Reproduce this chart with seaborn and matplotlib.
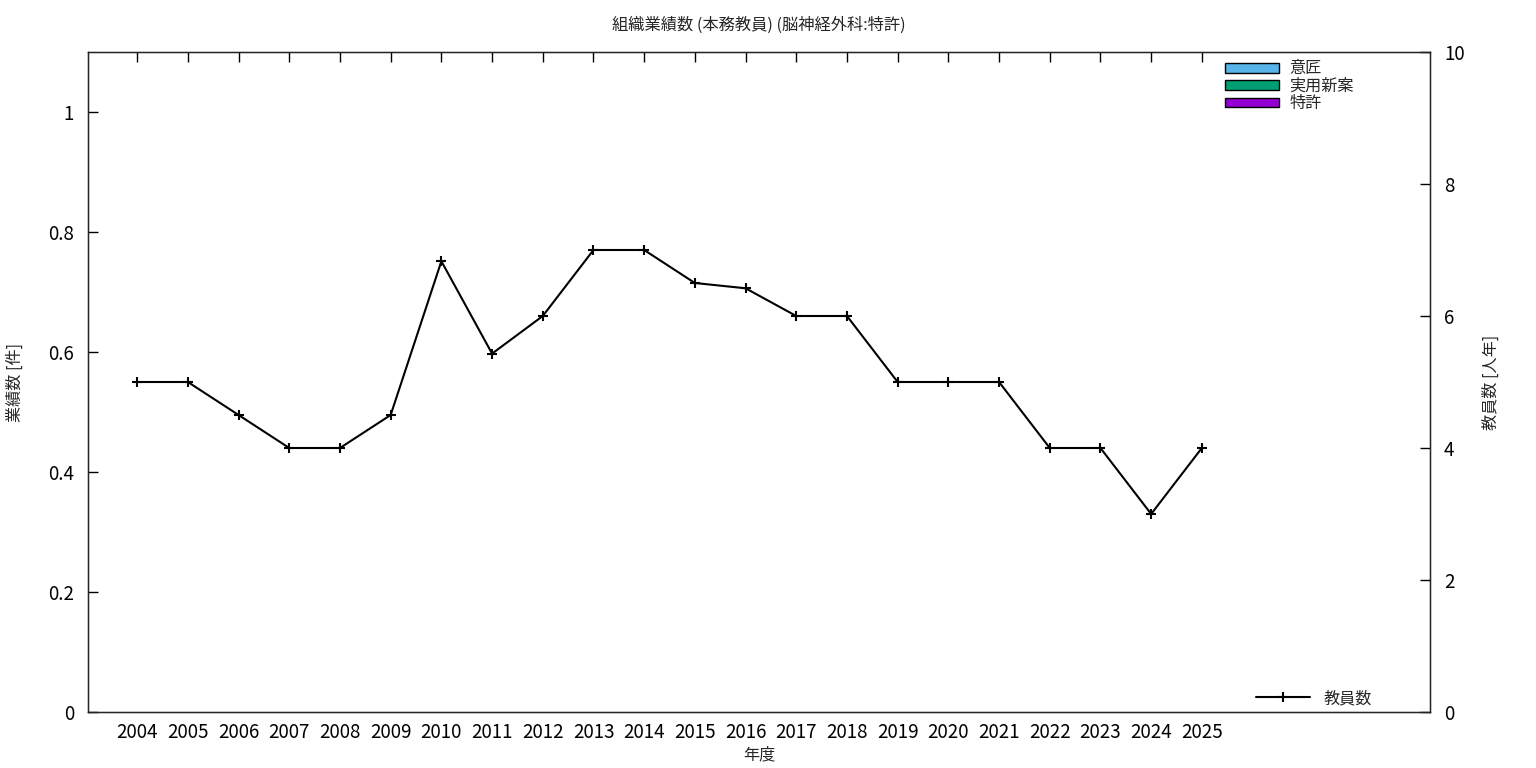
import matplotlib
matplotlib.use("Agg")
import matplotlib.pyplot as plt
from matplotlib.patches import Patch
import seaborn as sns
import numpy as np
import pandas as pd

years = [2004, 2005, 2006, 2007, 2008, 2009, 2010, 2011, 2012, 2013, 2014,
         2015, 2016, 2017, 2018, 2019, 2020, 2021, 2022, 2023, 2024, 2025]
staff = [5.0, 5.0, 4.5, 4.0, 4.0, 4.5, 6.83, 5.43, 6.0, 7.0, 7.0,
         6.5, 6.42, 6.0, 6.0, 5.0, 5.0, 5.0, 4.0, 4.0, 3.0, 4.0]
design = [0] * len(years)
utility = [0] * len(years)
patent = [0] * len(years)
series_names = ["意匠", "実用新案", "特許"]
series_colors = ["#56b4e9", "#009e73", "#9400d3"]

sns.set_style("white")
plt.rcParams['font.family'] = ['Noto Sans CJK JP', 'DejaVu Sans']

fig = plt.figure(figsize=(15.36, 7.68), dpi=100)
ax = fig.add_axes([88/1536, 1 - 712/768, (1430-88)/1536, (712-52)/768])

# stacked bars (all zero)
bottom = np.zeros(len(years))
for name, vals, col in zip(series_names, [design, utility, patent], series_colors):
    ax.bar(years, vals, bottom=bottom, width=0.5, color=col,
           edgecolor='black', linewidth=0, label=name, zorder=1)
    bottom = bottom + np.array(vals)
bar_handles = [Patch(facecolor=c, edgecolor='black', linewidth=1) for c in series_colors]

ax.set_xlim(2003.03, 2029.5)
ax.set_ylim(0, 1.1)
ax.set_yticks([0, 0.2, 0.4, 0.6, 0.8, 1.0])
ax.set_yticklabels(["0", "0.2", "0.4", "0.6", "0.8", "1"])
ax.set_xticks(years)
ax.set_xticklabels([str(y) for y in years])
ax.tick_params(axis='x', direction='in', length=7, width=1, top=True, labelsize=13.5, pad=7, colors='black')
ax.tick_params(axis='y', direction='in', length=7, width=1, labelsize=13.5, pad=10, colors='black')
for s in ax.spines.values():
    s.set_color('black')
    s.set_linewidth(1)

ax2 = ax.twinx()
df = pd.DataFrame({"year": years, "staff": staff})
sns.lineplot(data=df, x="year", y="staff", ax=ax2, color='black', marker='+',
             markersize=7, markeredgewidth=1.5, linewidth=1.5,
             markeredgecolor='black', label="教員数")
ax2.set_ylim(0, 10)
ax2.set_yticks([0, 2, 4, 6, 8, 10])
ax2.tick_params(axis='y', direction='in', length=7, width=1, labelsize=13.5, pad=10, colors='black')
ax2.set_xlim(2003.03, 2029.5)
ax2.set_xlabel("")
ax2.set_ylabel("")

leg1 = ax.legend(handles=bar_handles, labels=series_names, loc='upper right',
                 bbox_to_anchor=(1 - 70/1342, 1 - 2/660), frameon=False, fontsize=11.6,
                 handlelength=3.4, handleheight=0.55, labelspacing=0.02, handletextpad=0.6,
                 borderaxespad=0)
leg2 = ax2.legend(loc='lower right', bbox_to_anchor=(1 - 52/1342, -0.002), frameon=False,
                  fontsize=11.6, handlelength=3.4, handletextpad=0.8, borderaxespad=0)

fig.text(15/1536, 1 - 382/768, "業績数 [件]", rotation=90, ha='center', va='center', fontsize=11.6)
fig.text(1491/1536, 1 - 382/768, "教員数 [人年]", rotation=90, ha='center', va='center', fontsize=11.6)
fig.text(759/1536, 1 - 755/768, "年度", ha='center', va='center', fontsize=11.6)
fig.text(759/1536, 1 - 25/768, "組織業績数 (本務教員) (脳神経外科:特許)", ha='center', va='center', fontsize=11.7)

fig.savefig("out.png", dpi=100)
